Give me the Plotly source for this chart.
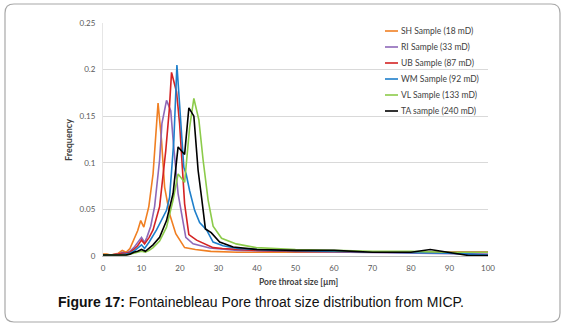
import plotly.graph_objects as go

# ---------------- data ----------------
sh_x = [0, 1, 2, 3, 4, 5, 6, 7, 8, 9, 9.8, 10.6, 11.9, 13.0, 14.3, 15.2, 16.0, 17.3, 18.9, 21.2, 24, 28, 35, 45, 60, 75, 90, 100]
sh_y = [0.002, 0.002, 0.001, 0.002, 0.003, 0.006, 0.004, 0.008, 0.017, 0.027, 0.038, 0.031, 0.053, 0.088, 0.164, 0.124, 0.074, 0.045, 0.024, 0.009, 0.007, 0.005, 0.004, 0.004, 0.004, 0.004, 0.004, 0.004]

ri_x = [0, 2, 4, 5, 6, 7, 8, 9, 10.0, 10.8, 11.4, 12.4, 13.4, 14.7, 15.3, 16.5, 17.6, 18.3, 19.5, 21.5, 23.4, 27.7, 35, 50, 70, 90, 100]
ri_y = [0.001, 0.001, 0.002, 0.004, 0.003, 0.005, 0.009, 0.014, 0.020, 0.0145, 0.020, 0.032, 0.053, 0.103, 0.142, 0.167, 0.156, 0.12, 0.067, 0.020, 0.013, 0.0086, 0.006, 0.005, 0.004, 0.003, 0.002]

ub_x = [0, 2, 4, 5, 6, 7, 8, 9, 10.0, 10.8, 12, 13.0, 14.7, 16.3, 17.2, 17.8, 19.1, 19.9, 21.2, 22.3, 24.3, 28.6, 31, 40, 50, 60, 70, 80, 90, 100]
ub_y = [0.001, 0.001, 0.002, 0.003, 0.003, 0.004, 0.007, 0.011, 0.017, 0.013, 0.020, 0.028, 0.053, 0.113, 0.156, 0.197, 0.176, 0.142, 0.056, 0.023, 0.017, 0.009, 0.008, 0.006, 0.005, 0.005, 0.004, 0.004, 0.004, 0.004]

wm_x = [0, 2, 4, 6, 7, 8, 9, 10.0, 10.8, 12, 13.9, 16.5, 17.3, 18.4, 19.2, 21.0, 21.6, 22.5, 23.8, 25.1, 26.9, 28.6, 31.2, 35, 45, 60, 70, 80, 90, 95, 100]
wm_y = [0.001, 0.001, 0.001, 0.002, 0.003, 0.005, 0.008, 0.012, 0.008, 0.015, 0.028, 0.049, 0.063, 0.124, 0.205, 0.095, 0.088, 0.070, 0.049, 0.036, 0.028, 0.015, 0.011, 0.008, 0.006, 0.005, 0.004, 0.004, 0.003, 0.002, 0.001]

vl_x = [0, 2, 4, 6, 8, 9, 10, 11, 12, 13, 14.7, 16.5, 18.2, 19.5, 21.2, 22.5, 23.6, 24.9, 26.0, 27.3, 28.6, 30.8, 34.6, 39.8, 50, 60, 70, 80, 90, 100]
vl_y = [0.001, 0.001, 0.001, 0.001, 0.003, 0.004, 0.005, 0.004, 0.006, 0.009, 0.016, 0.031, 0.060, 0.088, 0.079, 0.138, 0.169, 0.146, 0.103, 0.060, 0.032, 0.019, 0.013, 0.009, 0.007, 0.006, 0.005, 0.005, 0.004, 0.004]

ta_x = [0, 2, 4, 6, 7, 8, 9, 10, 11, 12, 13, 14.7, 16.5, 18.2, 19.5, 21.2, 22.3, 23.6, 24.7, 25.6, 26.6, 28.1, 30.3, 33.8, 40, 50, 60, 70, 80, 85, 90, 95, 100]
ta_y = [0.001, 0.001, 0.001, 0.001, 0.002, 0.004, 0.005, 0.007, 0.005, 0.008, 0.012, 0.020, 0.038, 0.067, 0.117, 0.109, 0.159, 0.150, 0.092, 0.063, 0.029, 0.025, 0.015, 0.0097, 0.007, 0.006, 0.006, 0.004, 0.004, 0.007, 0.004, 0.0005, 0.0005]

series_names = ["SH Sample (18 mD)", "RI Sample (33 mD)", "UB Sample (87 mD)",
                "WM Sample (92 mD)", "VL Sample (133 mD)", "TA sample (240 mD)"]
series_x = [sh_x, ri_x, ub_x, wm_x, vl_x, ta_x]
series_y = [sh_y, ri_y, ub_y, wm_y, vl_y, ta_y]
colors = ["#F07F22", "#8D68B8", "#D42323", "#1E7FCB", "#8CCB4A", "#000000"]

x_ticks = [0, 10, 20, 30, 40, 50, 60, 70, 80, 90, 100]
y_ticks = [0, 0.05, 0.1, 0.15, 0.2, 0.25]
y_tick_text = ["0", "0.05", "0.1", "0.15", "0.2", "0.25"]

# ---------------- layout geometry ----------------
W, H = 565, 327
L, R, T, B = 103, 77, 23, 71
PW, PH = W - L - R, H - T - B


def px(xp):
    return (xp - L) / PW


def py(yp):
    return (H - B - yp) / PH


TICK_FONT = dict(family="Lato, Open Sans, sans-serif", size=8, color="#595959")

fig = go.Figure()
for name, xs, ys, c in zip(series_names, series_x, series_y, colors):
    fig.add_trace(go.Scatter(x=xs, y=ys, mode="lines", name=name,
                             line=dict(color=c, width=1.6), showlegend=False))

shapes = []
annotations = []

# manual legend
leg_y = [31, 47, 63, 79, 95, 111]
for name, c, yy in zip(series_names, colors, leg_y):
    shapes.append(dict(type="line", xref="paper", yref="paper",
                       x0=px(385), x1=px(398), y0=py(yy), y1=py(yy),
                       line=dict(color=c, width=1.6)))
    annotations.append(dict(text=name, xref="paper", yref="paper",
                            x=px(399), y=py(yy), xanchor="left", yanchor="middle",
                            showarrow=False, font=dict(family="Lato, Open Sans, sans-serif",
                                                       size=8.5, color="#404040")))

# axis titles
annotations.append(dict(text="<b>Frequency</b>", xref="paper", yref="paper",
                        x=px(68), y=py(140), textangle=-90, showarrow=False,
                        xanchor="center", yanchor="middle",
                        font=dict(family="Lato, Open Sans, sans-serif", size=9, color="#404040")))
annotations.append(dict(text="<b>Pore throat size [µm]</b>", xref="paper", yref="paper",
                        x=px(298), y=py(282), showarrow=False,
                        xanchor="center", yanchor="middle",
                        font=dict(family="Lato, Open Sans, sans-serif", size=8.5, color="#404040")))

# caption
annotations.append(dict(text="<b>Figure 17:</b> Fontainebleau Pore throat size distribution from MICP.",
                        xref="paper", yref="paper", x=px(261), y=py(302), showarrow=False,
                        xanchor="center", yanchor="middle",
                        font=dict(family="Liberation Sans, Arial, sans-serif", size=14, color="#111111")))

# rounded border
x0, y0, x1, y1, r = px(5), py(4), px(560), py(322), 9
rx, ry = r / PW, r / PH
path = (f"M {x0+rx},{y0} L {x1-rx},{y0} Q {x1},{y0} {x1},{y0-ry} "
        f"L {x1},{y1+ry} Q {x1},{y1} {x1-rx},{y1} "
        f"L {x0+rx},{y1} Q {x0},{y1} {x0},{y1+ry} "
        f"L {x0},{y0-ry} Q {x0},{y0} {x0+rx},{y0} Z")
shapes.append(dict(type="path", xref="paper", yref="paper", path=path,
                   line=dict(color="#A8A8A8", width=1.2), layer="below"))

fig.update_layout(
    width=W, height=H,
    margin=dict(l=L, r=R, t=T, b=B, pad=0),
    paper_bgcolor="white", plot_bgcolor="white",
    showlegend=False,
    shapes=shapes, annotations=annotations,
    xaxis=dict(range=[0, 100], tickvals=x_ticks, showgrid=False, zeroline=False,
               showline=True, linecolor="#BFBFBF", linewidth=1,
               ticks="", tickfont=TICK_FONT, ticklabelstandoff=4),
    yaxis=dict(range=[0, 0.25], tickvals=y_ticks, ticktext=y_tick_text,
               showgrid=True, gridcolor="#D9D9D9", gridwidth=1, zeroline=False,
               showline=True, linecolor="#E6E6E6", linewidth=1,
               ticks="", tickfont=TICK_FONT, ticklabelstandoff=5),
)

fig.write_html("out.html", config={"displayModeBar": False},
               post_script="document.body.style.margin='0';document.body.style.padding='0';")
